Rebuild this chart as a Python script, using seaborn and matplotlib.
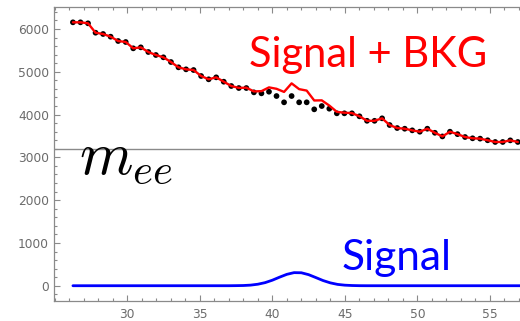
import matplotlib
matplotlib.use("Agg")
import matplotlib.pyplot as plt
import seaborn as sns
import pandas as pd
from matplotlib.ticker import MultipleLocator

# ---- data ----
mass = [26.25, 26.77, 27.29, 27.81, 28.33, 28.85, 29.37, 29.89, 30.41, 30.93,
        31.45, 31.97, 32.49, 33.01, 33.53, 34.05, 34.57, 35.09, 35.61, 36.13,
        36.65, 37.17, 37.69, 38.21, 38.73, 39.25, 39.77, 40.29, 40.81, 41.33,
        41.85, 42.37, 42.89, 43.41, 43.93, 44.45, 44.97, 45.49, 46.01, 46.53,
        47.05, 47.57, 48.09, 48.61, 49.13, 49.65, 50.17, 50.69, 51.21, 51.73,
        52.25, 52.77, 53.29, 53.81, 54.33, 54.85, 55.37, 55.89, 56.41, 56.93]

counts = [6157, 6157, 6134, 5914, 5884, 5821, 5720, 5697, 5549, 5572,
          5463, 5393, 5339, 5229, 5105, 5058, 5042, 4902, 4825, 4871,
          4769, 4668, 4621, 4621, 4520, 4497, 4535, 4434, 4287, 4434,
          4287, 4287, 4123, 4200, 4138, 4030, 4030, 4030, 3960, 3855,
          3855, 3913, 3756, 3686, 3670, 3632, 3600, 3670, 3575, 3490,
          3600, 3543, 3476, 3446, 3438, 3400, 3360, 3360, 3398, 3360]

sig_bkg = [6157, 6157, 6134, 5914, 5884, 5821, 5720, 5697, 5549, 5572,
           5463, 5393, 5339, 5229, 5105, 5058, 5042, 4902, 4825, 4871,
           4769, 4668, 4624, 4629, 4542, 4548, 4636, 4603, 4530, 4730,
           4595, 4561, 4330, 4333, 4211, 4064, 4044, 4035, 3961, 3855,
           3855, 3913, 3756, 3686, 3670, 3632, 3600, 3670, 3575, 3490,
           3600, 3543, 3476, 3446, 3438, 3400, 3360, 3360, 3398, 3360]

sig_x = [26.25, 36.5, 37.0, 37.5, 38.0, 38.5, 39.0, 39.5, 40.0, 40.5, 41.0,
         41.5, 42.0, 42.5, 43.0, 43.5, 44.0, 44.5, 45.0, 45.5, 46.0, 46.5, 57.1]
sig_y = [0, 0, 0, 2, 5, 14, 35, 72, 129, 200, 266,
         306, 303, 259, 191, 121, 67, 31, 13, 5, 1, 0, 0]

x_ticks = [30, 35, 40, 45, 50, 55]
y_ticks = [0, 1000, 2000, 3000, 4000, 5000, 6000]

df_pts = pd.DataFrame({"m": mass, "n": counts})
df_sb = pd.DataFrame({"m": mass, "n": sig_bkg})
df_sig = pd.DataFrame({"m": sig_x, "n": sig_y})

sns.set_style("white")
plt.rcParams["font.family"] = ["DejaVu Sans"]
plt.rcParams["mathtext.fontset"] = "cm"

W, H = 520, 321
fig = plt.figure(figsize=(W / 100, H / 100), dpi=100)
ax = fig.add_axes([54 / W, 20.3 / H, 466 / W, 293.4 / H])

gray = "#8a8a8a"
ax.axhline(3200, color=gray, lw=1.0, zorder=1)

sns.scatterplot(data=df_pts, x="m", y="n", ax=ax, color="black", s=17,
                edgecolor="none", zorder=2, legend=False)
sns.lineplot(data=df_sb, x="m", y="n", ax=ax, color="#ff0000", lw=1.7,
             sort=False, estimator=None, zorder=3, legend=False)
sns.lineplot(data=df_sig, x="m", y="n", ax=ax, color="#0000ff", lw=2.0,
             sort=False, estimator=None, zorder=3, legend=False)

ax.set_xlim(24.945, 57.08)
ax.set_ylim(-350, 6508)
ax.set_xlabel("")
ax.set_ylabel("")
ax.set_xticks(x_ticks)
ax.set_yticks(y_ticks)
ax.xaxis.set_minor_locator(MultipleLocator(1))
ax.yaxis.set_minor_locator(MultipleLocator(200))

for s in ["left", "top", "bottom"]:
    ax.spines[s].set_color(gray)
    ax.spines[s].set_linewidth(0.9)
ax.spines["right"].set_visible(False)

ax.tick_params(axis="both", which="both", direction="in", color=gray,
               labelcolor="#6b6b6b", labelsize=8.8)
ax.tick_params(axis="x", which="both", top=True, bottom=True, pad=5)
ax.tick_params(axis="y", which="both", left=True, right=False, pad=3.5)
ax.tick_params(which="major", length=4.0, width=0.8)
ax.tick_params(which="minor", length=2.2, width=0.8)

fig.text(249 / W, 1 - 67 / H, "Signal + BKG", color="#ff0000",
         fontsize=30, family="Lato", ha="left", va="baseline")
fig.text(342 / W, 1 - 270 / H, "Signal", color="#0000ff",
         fontsize=30.5, family="Lato", ha="left", va="baseline")
fig.text(79 / W, 1 - 173.3 / H, r"$m_{ee}$", color="black",
         fontsize=44, ha="left", va="baseline")

fig.savefig("out.png", dpi=100)
